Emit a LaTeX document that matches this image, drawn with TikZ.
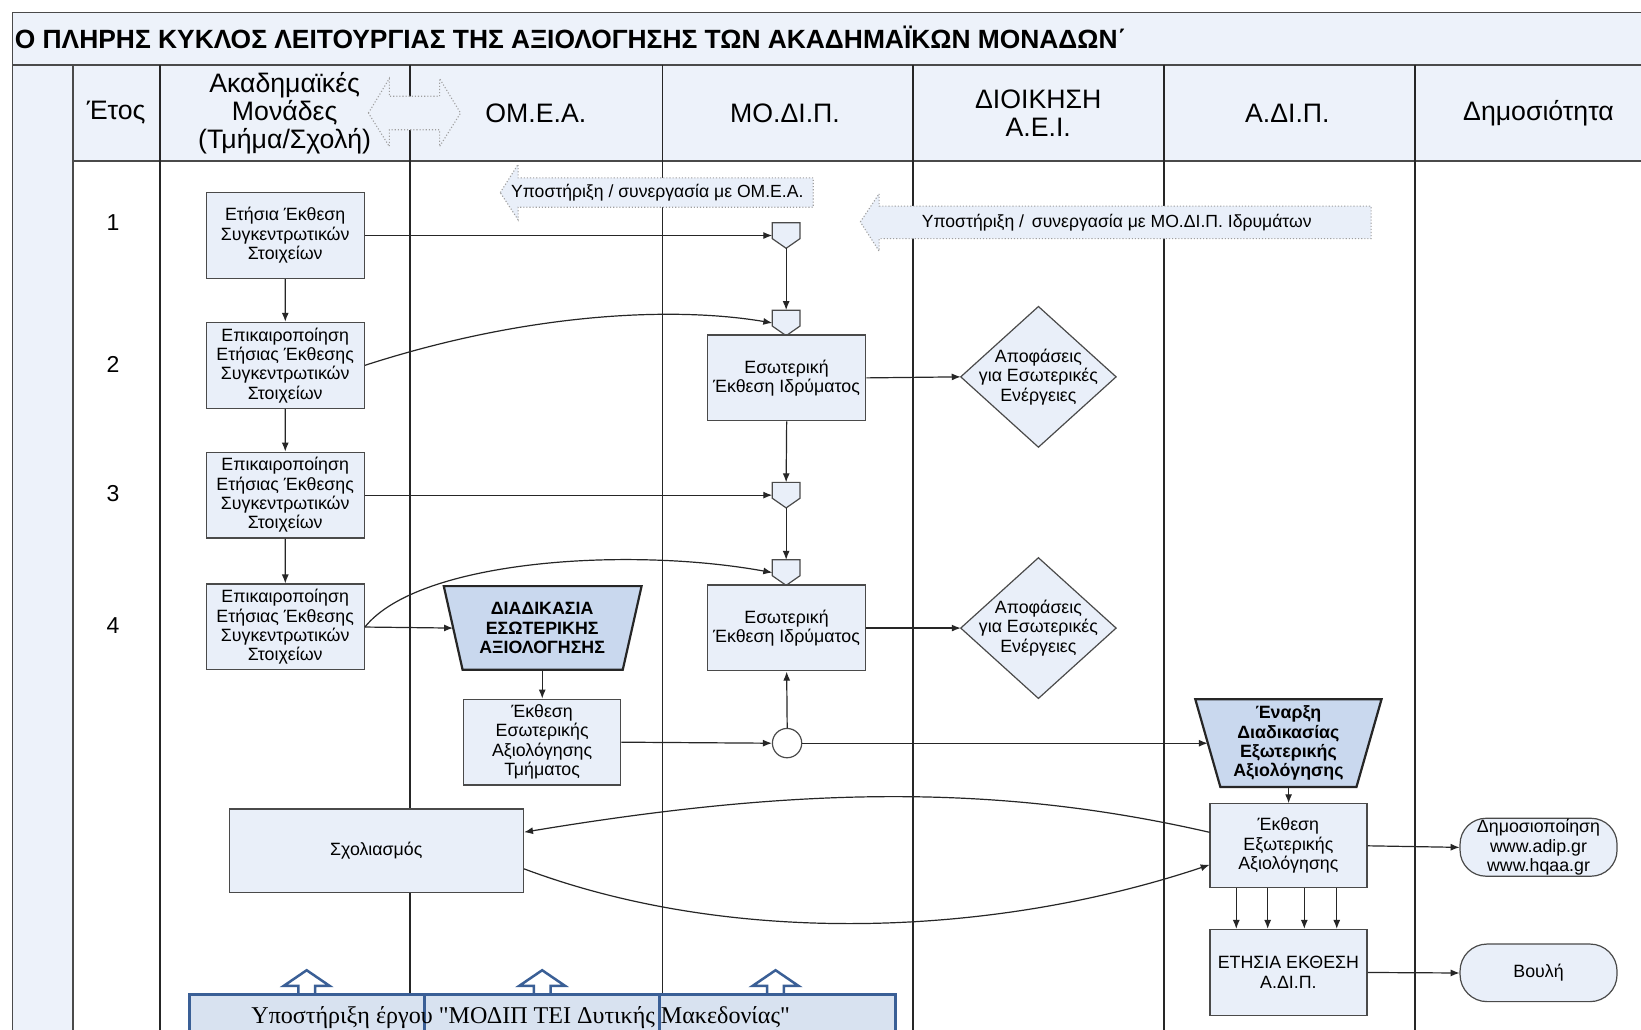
\documentclass[tikz,border=0pt]{standalone}
\usepackage{fontspec}
\setmainfont{Liberation Sans}
\newfontfamily\myserif{Liberation Serif}
\usetikzlibrary{shapes.geometric,arrows.meta}
\definecolor{bandfill}{HTML}{EDF2FA}
\definecolor{boxfill}{HTML}{E9EFF9}
\definecolor{trapfill}{HTML}{C9D8EE}
\definecolor{boxline}{HTML}{4A4A4A}
\definecolor{blueline}{HTML}{3A5F96}
\definecolor{bluefill}{HTML}{D8E2F0}
\newcommand\mytitle{\fontsize{25.2}{30}\selectfont\bfseries}
\newcommand\myhd{\fontsize{25.5}{27}\selectfont}
\newcommand\myyear{\fontsize{22}{26}\selectfont}
\newcommand\mybx{\fontsize{17}{18.5}\selectfont}
\newcommand\mybfbx{\fontsize{17}{18.5}\selectfont\bfseries}
\newcommand\mysmall{\fontsize{16.8}{18}\selectfont}
\newcommand\mergeshape[1]{\draw[mergeline] (#1.north west) -- (#1.north east) -- ([yshift=-3pt]#1.east) -- (#1.south) -- ([yshift=-3pt]#1.west) -- cycle;}
\newcommand\diamondshape[1]{\draw[mergeline] (#1.north) -- (#1.east) -- (#1.south) -- (#1.west) -- cycle;}
\tikzset{
  lane/.style={draw=black!85, line width=1.7pt},
  procbox/.style={draw=boxline, fill=boxfill, line width=1.2pt, align=center, font=\mybx, inner sep=1pt, minimum width=151pt, minimum height=82pt},
  decbox/.style={minimum width=148pt, minimum height=134pt, inner sep=0pt},
  dectext/.style={align=center, font=\mybx, inner sep=0pt},
  mergebox/.style={minimum width=26pt, minimum height=24pt, inner sep=0pt},
  mergeline/.style={draw=boxline, fill=boxfill, line width=1.2pt},
  trap/.style={draw=black!85, fill=trapfill, line width=2.2pt, line join=miter},
  traptext/.style={align=center, font=\mybfbx, inner sep=0pt},
  arr/.style={draw=black!85, line width=1.2pt, -{Latex[length=9pt,width=7pt]}},
  dotarrow/.style={draw=gray!75, dotted, line width=1.1pt, fill=boxfill},
  hdr/.style={font=\myhd, align=center, inner sep=0pt},
  yr/.style={font=\myyear, inner sep=0pt},
  blueb/.style={draw=blueline, fill=bluefill, line width=3pt},
  bluearr/.style={draw=blueline, fill=white, line width=2.5pt, line join=miter},
}
\begin{document}
\begin{tikzpicture}[x=1pt,y=-1pt,scale=1.0466,transform shape]
\useasboundingbox (0,0) rectangle (1567.9,983.2);
\clip (0,0) rectangle (1567.9,983.2);
\fill[white] (0,0) rectangle (1567.9,983.2);
% bands
\filldraw[fill=bandfill, draw=boxline, line width=1.7pt] (12,12) rectangle (1590,62);
\filldraw[fill=bandfill, draw=boxline, line width=1.7pt] (70,62) rectangle (1590,154);
\filldraw[fill=bandfill, draw=boxline, line width=1.7pt] (12,62) rectangle (70,1000);
\foreach \lx in {153,392,633,872,1112,1352} \draw[lane] (\lx,62) -- (\lx,1000);
% title
\node[anchor=west, font=\mytitle, inner sep=0pt] (title) at (14,36) {Ο ΠΛΗΡΗΣ ΚΥΚΛΟΣ ΛΕΙΤΟΥΡΓΙΑΣ ΤΗΣ ΑΞΙΟΛΟΓΗΣΗΣ ΤΩΝ ΑΚΑΔΗΜΑΪΚΩΝ ΜΟΝΑΔΩΝ΄};
% header double arrow
\draw[dotarrow, fill=bandfill] (352,108) -- (372,75) -- (372,92) -- (420,92) -- (420,75) -- (440,108) -- (420,140) -- (420,124) -- (372,124) -- (372,140) -- cycle;
% headers
\node[hdr] (hyear) at (111,108) {Έτος};
\node[hdr] (hakad) at (272,108) {Ακαδημαϊκές\\Μονάδες\\(Τμήμα/Σχολή)};
\node[hdr] (homea) at (512,108) {ΟΜ.Ε.Α.};
\node[hdr] (hmodip) at (750,108) {ΜΟ.ΔΙ.Π.};
\node[hdr] (hdioik) at (992,108) {ΔΙΟΙΚΗΣΗ\\Α.Ε.Ι.};
\node[hdr] (hadip) at (1230,108) {Α.ΔΙ.Π.};
\node[hdr] (hdimos) at (1470,108) {Δημοσιότητα};
% years
\node[yr] (y1) at (108,213) {1};
\node[yr] (y2) at (108,348) {2};
\node[yr] (y3) at (108,472) {3};
\node[yr] (y4) at (108,598) {4};
% support arrows
\draw[dotarrow] (478,184) -- (495,157) -- (495,170) -- (777,170) -- (777,198) -- (495,198) -- (495,210) -- cycle;
\node[font=\mysmall, inner sep=0pt] (sup1) at (628,184) {Υποστήριξη / συνεργασία με ΟΜ.Ε.Α.};
\draw[dotarrow] (822,212) -- (840,185) -- (840,197) -- (1310,197) -- (1310,228) -- (840,228) -- (840,240) -- cycle;
\node[font=\mysmall, inner sep=0pt] (sup2) at (1067,213) {Υποστήριξη /\, συνεργασία με ΜΟ.ΔΙ.Π. Ιδρυμάτων};
% lane 1 boxes
\node[procbox] (b1) at (272.5,225) {Ετήσια Έκθεση\\Συγκεντρωτικών\\Στοιχείων};
\node[procbox] (b2) at (272.5,349) {Επικαιροποίηση\\Ετήσιας Έκθεσης\\Συγκεντρωτικών\\Στοιχείων};
\node[procbox] (b3) at (272.5,473) {Επικαιροποίηση\\Ετήσιας Έκθεσης\\Συγκεντρωτικών\\Στοιχείων};
\node[procbox] (b4) at (272.5,599) {Επικαιροποίηση\\Ετήσιας Έκθεσης\\Συγκεντρωτικών\\Στοιχείων};
% merge symbols
\node[mergebox] (m1) at (751,225) {};
\node[mergebox] (m2) at (751,308.5) {};
\node[mergebox] (m3) at (751,473) {};
\node[mergebox] (m4) at (751,547) {};
\mergeshape{m1}\mergeshape{m2}\mergeshape{m3}\mergeshape{m4}
% MODIP boxes
\node[procbox] (e1) at (751.5,361) {Εσωτερική\\Έκθεση Ιδρύματος};
\node[procbox] (e2) at (751.5,600) {Εσωτερική\\Έκθεση Ιδρύματος};
% decisions
\node[decbox] (d1) at (992,360) {};
\node[decbox] (d2) at (992,600) {};
\diamondshape{d1}\diamondshape{d2}
\node[dectext] (d1t) at (d1) {Αποφάσεις\\για Εσωτερικές\\Ενέργειες};
\node[dectext] (d2t) at (d2) {Αποφάσεις\\για Εσωτερικές\\Ενέργειες};
% trapezoid 1
\draw[trap] (424,560) -- (613,560) -- (595,640) -- (442,640) -- cycle;
\node[traptext, minimum width=170pt, minimum height=80pt] (t1) at (518,600) {ΔΙΑΔΙΚΑΣΙΑ\\ΕΣΩΤΕΡΙΚΗΣ\\ΑΞΙΟΛΟΓΗΣΗΣ};
\node[procbox, minimum width=150pt] (r1) at (518,709) {Έκθεση\\Εσωτερικής\\Αξιολόγησης\\Τμήματος};
\node[circle, draw=boxline, fill=white, line width=1.2pt, minimum size=28pt, inner sep=0pt] (c) at (752,710) {};
% trapezoid 2
\draw[trap] (1142,668) -- (1320,668) -- (1296,752) -- (1166,752) -- cycle;
\node[traptext, minimum width=154pt, minimum height=84pt] (t2) at (1231,710) {Έναρξη\\Διαδικασίας\\Εξωτερικής\\Αξιολόγησης};
\node[procbox, minimum width=150pt, minimum height=80pt] (x1) at (1231,808) {Έκθεση\\Εξωτερικής\\Αξιολόγησης};
\node[procbox, minimum width=150pt] (yb) at (1231,929) {ΕΤΗΣΙΑ ΕΚΘΕΣΗ\\Α.ΔΙ.Π.};
\node[procbox, minimum width=281pt, minimum height=80pt] (s) at (359.5,813) {Σχολιασμός};
\node[procbox, minimum width=150pt, minimum height=53pt, rounded corners=26pt] (p1) at (1470,809.5) {Δημοσιοποίηση\\www.adip.gr\\www.hqaa.gr};
\node[procbox, minimum width=150pt, minimum height=55pt, rounded corners=27pt] (p2) at (1470,929.5) {Βουλή};
% connectors
\draw[arr] (b1) -- (b2);
\draw[arr] (b2) -- (b3);
\draw[arr] (b3) -- (b4);
\draw[arr] (b1.east) -- (m1.west);
\draw[arr] (m1.south) -- (m2.north);
\draw[arr] (b2.east) .. controls (500,300) and (640,292) .. (m2.west);
\draw[arr] (e1.south) -- (m3.north);
\draw[arr] (b3.east) -- (m3.west);
\draw[arr] (m3.south) -- (m4.north);
\draw[arr] (b4.east) .. controls (400,535) and (600,522) .. (m4.west);
\draw[arr] (e1.east) -- (d1.west);
\draw[arr] (e2.east) -- (d2.west);
\draw[arr] (b4.east) -- (t1.west);
\draw[arr] (t1.south) -- (r1.north);
\draw[arr] (r1.east) -- (c.west);
\draw[arr] (c.north) -- (e2.south);
\draw[arr] (c.east) -- (t2.west);
\draw[arr] (t2.south) -- (x1.north);
\path (x1.west) ++(0,-13) coordinate (x1a);
\path (x1.west) ++(0,18) coordinate (x1b);
\draw[arr] (x1a) .. controls (950,748) and (760,752) .. ([yshift=18pt]s.east);
\draw[arr] ([yshift=-17pt]s.east) .. controls (700,905) and (950,895) .. (x1b);
\foreach \dx in {-50,-20,15,46} \draw[arr] ([xshift=\dx pt]x1.south) -- ([xshift=\dx pt]yb.north);
\draw[arr] (x1.east) -- (p1.west);
\draw[arr] (yb.east) -- (p2.west);
% bottom support band
\draw[blueb] (181,950) rectangle (406,1000);
\draw[blueb] (406,950) rectangle (630,1000);
\draw[blueb] (630,950) rectangle (856,1000);
\foreach \ax in {293,518,741} \draw[bluearr] (\ax,927) -- (\ax+22,942) -- (\ax+8,942) -- (\ax+8,950) -- (\ax-8,950) -- (\ax-8,942) -- (\ax-22,942) -- cycle;
\node[font=\myserif\fontsize{23}{26}\selectfont, inner sep=0pt, anchor=west] (proj) at (240,972) {Υποστήριξη έργου "ΜΟΔΙΠ ΤΕΙ Δυτικής Μακεδονίας"};
\end{tikzpicture}
\end{document}
